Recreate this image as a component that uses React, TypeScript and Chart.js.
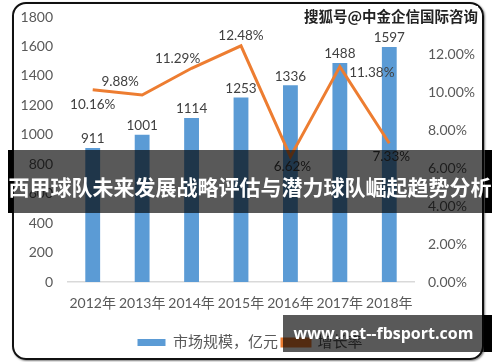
import React, { useEffect, useRef } from "react";
import { Chart, registerables } from "chart.js";

Chart.register(...registerables);

const categories = ["2012年", "2013年", "2014年", "2015年", "2016年", "2017年", "2018年"];
const marketSize = [911, 1001, 1114, 1253, 1336, 1488, 1597];
const growthRate = [10.16, 9.88, 11.29, 12.48, 6.62, 11.38, 7.33];
const leftMax = 1800;
const leftStep = 200;
const rightMax = 14;
const rightStep = 2;
const seriesNames = ["市场规模，亿元", "增长率"];
const titleText = "西甲球队未来发展战略评估与潜力球队崛起趋势分析";
const sourceText = "搜狐号@中金企信国际咨询";
const siteText = "www.net--fbsport.com";

// label placement (dx, dy) for the growth-rate point labels, Excel-like
const rateLabelOffsets: [number, number][] = [
  [0, 15],
  [-22, -13],
  [-14, -10],
  [0, -10],
  [2, 10],
  [32, 6],
  [2, 13],
];

const FONT = "Lato, 'Noto Sans CJK SC', sans-serif";
const BLUE = "#5B9BD5";
const ORANGE = "#ED7D31";

const labelPlugin = {
  id: "valueLabels",
  afterDatasetsDraw(chart: any) {
    const ctx = chart.ctx;
    ctx.save();
    ctx.font = `13.5px ${FONT}`;
    ctx.fillStyle = "#404040";
    ctx.textAlign = "center";
    ctx.textBaseline = "middle";
    const barMeta = chart.getDatasetMeta(0);
    barMeta.data.forEach((el: any, i: number) => {
      ctx.fillText(String(marketSize[i]), el.x, el.y - 9);
    });
    const lineMeta = chart.getDatasetMeta(1);
    lineMeta.data.forEach((el: any, i: number) => {
      const [dx, dy] = rateLabelOffsets[i];
      ctx.fillText(growthRate[i].toFixed(2) + "%", el.x + dx, el.y + dy);
    });
    ctx.restore();
  },
};

export default function App() {
  const canvasRef = useRef<HTMLCanvasElement | null>(null);

  useEffect(() => {
    if (!canvasRef.current) return;
    const fixV = (w: number) => (s: any) => {
      s.width = w;
      s.paddingTop = 8;
      s.paddingBottom = 8;
    };
    const chart = new Chart(canvasRef.current, {
      type: "bar",
      data: {
        labels: categories,
        datasets: [
          {
            type: "bar",
            label: seriesNames[0],
            data: marketSize,
            backgroundColor: BLUE,
            borderWidth: 0,
            barPercentage: 0.3,
            categoryPercentage: 1,
            yAxisID: "y",
            order: 1,
          } as any,
          {
            type: "line",
            label: seriesNames[1],
            data: growthRate,
            borderColor: ORANGE,
            backgroundColor: ORANGE,
            borderWidth: 3,
            pointRadius: 0,
            tension: 0,
            yAxisID: "y1",
            order: 0,
          } as any,
        ],
      },
      options: {
        animation: false,
        responsive: false,
        maintainAspectRatio: false,
        layout: { padding: { top: 17, bottom: 2, left: 0, right: 0 } },
        plugins: {
          tooltip: { enabled: false },
          legend: {
            position: "bottom",
            labels: {
              boxWidth: 28,
              boxHeight: 7,
              padding: 4,
              color: "#595959",
              font: { size: 15, family: FONT },
              sort: (a: any, b: any) => a.datasetIndex - b.datasetIndex,
            },
          },
        },
        scales: {
          x: {
            grid: { display: false, drawTicks: false },
            border: { display: true, color: "#D9D9D9", width: 1.5 },
            ticks: {
              color: "#595959",
              font: { size: 14, family: FONT },
              padding: 13,
              maxRotation: 0,
              autoSkip: false,
            },
            afterFit: (s: any) => {
              s.height = 49;
            },
          },
          y: {
            position: "left",
            min: 0,
            max: leftMax,
            grid: { display: false, drawTicks: false },
            border: { display: false },
            ticks: {
              stepSize: leftStep,
              color: "#595959",
              font: { size: 14, family: FONT },
              padding: 15,
              callback: (v: any) => String(v),
            },
            afterFit: fixV(68),
          },
          y1: {
            position: "right",
            min: 0,
            max: rightMax,
            grid: { display: false, drawTicks: false },
            border: { display: false },
            ticks: {
              stepSize: rightStep,
              color: "#595959",
              font: { size: 14, family: FONT },
              padding: 14,
              callback: (v: any) => Number(v).toFixed(2) + "%",
            },
            afterFit: fixV(86),
          },
        },
      } as any,
      plugins: [labelPlugin],
    });
    return () => chart.destroy();
  }, []);

  return (
    <div style={{ position: "absolute", left: 0, top: 0, width: 500, height: 362, background: "#fff", overflow: "hidden" }}>
      <canvas ref={canvasRef} width={500} height={362} style={{ position: "absolute", left: 0, top: 0, width: 500, height: 362 }} />
      <div
        style={{
          position: "absolute",
          left: 12,
          top: 2,
          width: 472,
          height: 358,
          boxSizing: "border-box",
          border: "2px solid #111",
          borderRadius: 14,
          boxShadow: "1px 1px 2px rgba(0,0,0,0.5)",
          pointerEvents: "none",
        }}
      />
      <div
        style={{
          position: "absolute",
          left: 304,
          top: 6,
          width: 174,
          height: 20,
          textAlign: "right",
          fontFamily: "'Noto Sans CJK SC', sans-serif",
          fontWeight: 700,
          fontSize: 14.5,
          lineHeight: "20px",
          color: "#222",
          background: "#fff",
          whiteSpace: "nowrap",
        }}
      >
        {sourceText}
      </div>
      <div
        style={{
          position: "absolute",
          left: 8,
          top: 150,
          width: 484,
          height: 63,
          boxSizing: "border-box",
          background: "rgba(0,0,0,0.65)",
          borderLeft: "5px solid #000",
          borderRight: "7px solid #000",
        }}
      />
      <div
        style={{
          position: "absolute",
          left: 0,
          top: 150,
          width: 500,
          height: 72,
          lineHeight: "72px",
          textAlign: "center",
          fontFamily: "'Noto Sans CJK SC', sans-serif",
          fontWeight: 700,
          fontSize: 21,
          color: "#fff",
          whiteSpace: "nowrap",
        }}
      >
        {titleText}
      </div>
      <div
        style={{
          position: "absolute",
          left: 283,
          top: 315,
          width: 209,
          height: 37,
          boxSizing: "border-box",
          background: "rgba(0,0,0,0.65)",
          borderRight: "8px solid #000",
          color: "#fff",
          fontFamily: "'Open Sans', sans-serif",
          fontWeight: 700,
          fontSize: 16,
          lineHeight: "37px",
          textAlign: "center",
          whiteSpace: "nowrap",
        }}
      >
        {siteText}
      </div>
    </div>
  );
}
